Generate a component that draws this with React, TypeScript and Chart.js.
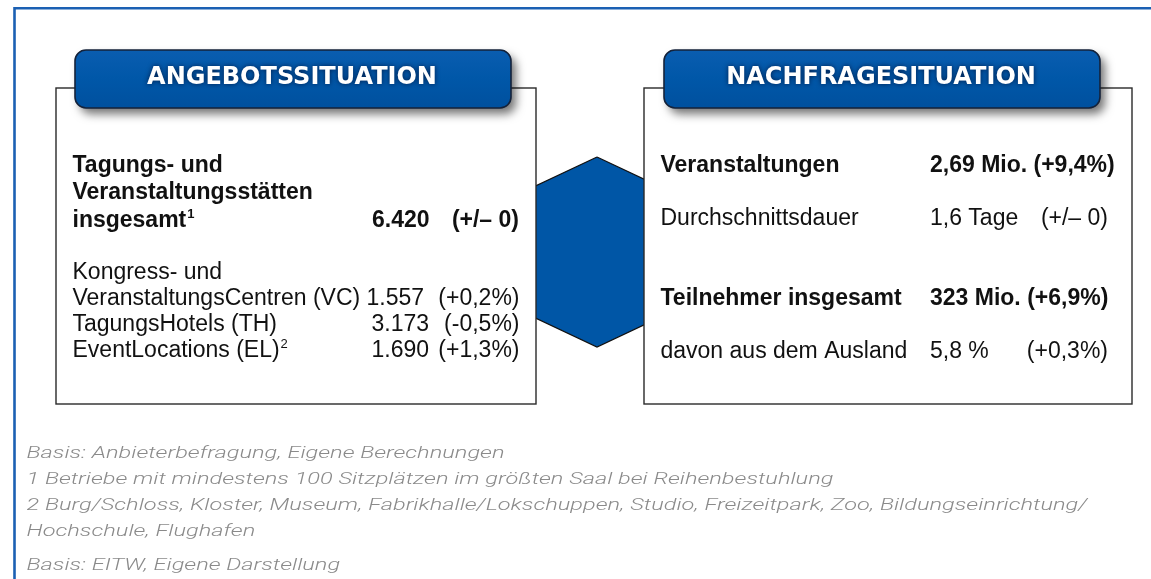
import React, { useEffect, useRef } from "react";
import { Chart, registerables } from "chart.js";

Chart.register(...registerables);

// ---------- data ----------
const supplyTitle = "ANGEBOTSSITUATION";
const demandTitle = "NACHFRAGESITUATION";

const supplyTotalLines = ["Tagungs- und", "Veranstaltungsstätten", "insgesamt"];
const supplyTotalNote = "1";
const supplyTotalValue = "6.420";
const supplyTotalChange = "(+/– 0)";

const supplyCategoryIntro = "Kongress- und";
const supplyCategories = ["VeranstaltungsCentren (VC)", "TagungsHotels (TH)", "EventLocations (EL)"];
const supplyCategoryNotes = ["", "", "2"];
const supplyValues = ["1.557", "3.173", "1.690"];
const supplyChanges = ["(+0,2%)", "(-0,5%)", "(+1,3%)"];

const demandLabels = ["Veranstaltungen", "Durchschnittsdauer", "Teilnehmer insgesamt", "davon aus dem Ausland"];
const demandValues = ["2,69 Mio.", "1,6 Tage", "323 Mio.", "5,8 %"];
const demandChanges = ["(+9,4%)", "(+/– 0)", "(+6,9%)", "(+0,3%)"];
const demandBold = [true, false, true, false];

const footnotes = [
  "Basis: Anbieterbefragung, Eigene Berechnungen",
  "1 Betriebe mit mindestens 100 Sitzplätzen im größten Saal bei Reihenbestuhlung",
  "2 Burg/Schloss, Kloster, Museum, Fabrikhalle/Lokschuppen, Studio, Freizeitpark, Zoo, Bildungseinrichtung/",
  "Hochschule, Flughafen",
  "Basis: EITW, Eigene Darstellung",
];

// connector hexagon outline
const hexX = [597, 677, 677, 597, 517, 517, 597];
const hexY = [157, 194.6, 309.4, 347, 309.4, 194.6, 157];

// ---------- styles ----------
const W = 1151;
const H = 579;
const BODY_FONT = '"Liberation Sans", Arial, sans-serif';
const HEAD_FONT = '"DejaVu Sans", Verdana, sans-serif';
const NOTE_FONT = 'Roboto, "Open Sans", sans-serif';
const BODY_SIZE = 23;
const BLUE = "#0056a6";

const leftBox = { x0: 56, x1: 536, y0: 88, y1: 404 };
const rightBox = { x0: 644, x1: 1132, y0: 88, y1: 404 };
const leftHead = { x0: 75, x1: 511, y0: 50, y1: 108 };
const rightHead = { x0: 664, x1: 1100, y0: 50, y1: 108 };

const infoPlugin = {
  id: "infoPanels",
  afterDatasetsDraw(chart: any) {
    const ctx: CanvasRenderingContext2D = chart.ctx;
    const sx = chart.scales.x;
    const sy = chart.scales.y;
    const X = (v: number) => sx.getPixelForValue(v);
    const Y = (v: number) => sy.getPixelForValue(v);

    ctx.save();

    // outer frame
    ctx.strokeStyle = "#1b60b3";
    ctx.lineWidth = 2.6;
    ctx.beginPath();
    ctx.moveTo(X(W + 5), Y(8.2));
    ctx.lineTo(X(14.5), Y(8.2));
    ctx.lineTo(X(14.5), Y(H + 5));
    ctx.stroke();

    // content boxes
    const box = (b: any) => {
      ctx.fillStyle = "#ffffff";
      ctx.fillRect(X(b.x0), Y(b.y0), X(b.x1) - X(b.x0), Y(b.y1) - Y(b.y0));
      ctx.strokeStyle = "#2a2a2a";
      ctx.lineWidth = 1.4;
      ctx.strokeRect(X(b.x0), Y(b.y0), X(b.x1) - X(b.x0), Y(b.y1) - Y(b.y0));
    };
    box(leftBox);
    box(rightBox);

    // header pills
    const head = (h: any, title: string) => {
      const x = X(h.x0), y = Y(h.y0), w = X(h.x1) - X(h.x0), hh = Y(h.y1) - Y(h.y0);
      ctx.save();
      ctx.beginPath();
      ctx.roundRect(x, y, w, hh, 11);
      ctx.shadowColor = "rgba(0,0,0,0.55)";
      ctx.shadowBlur = 10;
      ctx.shadowOffsetX = 5;
      ctx.shadowOffsetY = 6;
      const g = ctx.createLinearGradient(0, y, 0, y + hh);
      g.addColorStop(0, "#0a5db0");
      g.addColorStop(0.5, "#0057a8");
      g.addColorStop(1, "#00509e");
      ctx.fillStyle = g;
      ctx.fill();
      ctx.restore();
      ctx.save();
      ctx.beginPath();
      ctx.roundRect(x, y, w, hh, 11);
      ctx.strokeStyle = "#14223a";
      ctx.lineWidth = 1.6;
      ctx.stroke();
      ctx.font = `bold 24px ${HEAD_FONT}`;
      ctx.textAlign = "center";
      ctx.textBaseline = "alphabetic";
      ctx.shadowColor = "rgba(0,10,40,0.75)";
      ctx.shadowBlur = 5;
      ctx.fillStyle = "#ffffff";
      ctx.fillText(title, x + w / 2 - 1, Y(84));
      ctx.restore();
    };
    head(leftHead, supplyTitle);
    head(rightHead, demandTitle);

    // body text helpers
    ctx.fillStyle = "#111111";
    ctx.textBaseline = "alphabetic";
    const txt = (s: string, x: number, y: number, bold: boolean, align: CanvasTextAlign = "left") => {
      ctx.font = `${bold ? "bold " : ""}${BODY_SIZE}px ${BODY_FONT}`;
      ctx.textAlign = align;
      ctx.fillText(s, X(x), Y(y));
      return ctx.measureText(s).width;
    };
    const sup = (s: string, x: number, y: number, bold: boolean) => {
      ctx.font = `${bold ? "bold " : ""}13px ${BODY_FONT}`;
      ctx.textAlign = "left";
      ctx.fillText(s, X(x), Y(y - 9));
    };

    // supply panel
    const lx = 72.5;
    const boldBase = [171.5, 199, 226.5];
    supplyTotalLines.forEach((l, i) => {
      const w = txt(l, lx, boldBase[i], true);
      if (i === supplyTotalLines.length - 1) sup(supplyTotalNote, lx + w + 1, boldBase[i], true);
    });
    txt(supplyTotalValue, 372, boldBase[2], true);
    txt(supplyTotalChange, 519, boldBase[2], true, "right");

    const regBase = [278.5, 304.5, 330.5, 356.5];
    txt(supplyCategoryIntro, lx, regBase[0], false);
    supplyCategories.forEach((c, i) => {
      const y = regBase[i + 1];
      const w = txt(c, lx, y, false);
      if (supplyCategoryNotes[i]) sup(supplyCategoryNotes[i], lx + w + 1, y, false);
      if (i === 0) {
        ctx.font = `${BODY_SIZE}px ${BODY_FONT}`;
        const sp = ctx.measureText(" ").width;
        txt(supplyValues[i], lx + w + sp, y, false);
      } else {
        txt(supplyValues[i], 371.5, y, false);
      }
      txt(supplyChanges[i], 519.5, y, false, "right");
    });

    // demand panel
    const rx = 660.5;
    const demandBase = [172, 225, 305, 358];
    demandLabels.forEach((l, i) => {
      const y = demandBase[i];
      txt(l, rx, y, demandBold[i]);
      if (demandBold[i]) {
        txt(demandValues[i] + " " + demandChanges[i], 930, y, true);
      } else {
        txt(demandValues[i], 930, y, false);
        txt(demandChanges[i], 1108, y, false, "right");
      }
    });

    // footnotes
    ctx.fillStyle = "#8a8a8a";
    ctx.font = `italic 300 17px ${NOTE_FONT}`;
    ctx.textAlign = "left";
    const stretch = 478 / ctx.measureText(footnotes[0]).width;
    const noteBase = [457.5, 484, 510, 536, 570];
    footnotes.forEach((f, i) => {
      ctx.save();
      ctx.translate(X(26.5), Y(noteBase[i]));
      ctx.scale(stretch, 1);
      ctx.fillText(f, 0, 0);
      ctx.restore();
    });

    ctx.restore();
  },
};

export default function App() {
  const ref = useRef<HTMLCanvasElement | null>(null);
  useEffect(() => {
    if (!ref.current) return;
    const chart = new Chart(ref.current, {
      type: "scatter",
      data: {
        datasets: [
          {
            data: hexX.map((x, i) => ({ x, y: hexY[i] })),
            showLine: true,
            fill: "shape",
            backgroundColor: BLUE,
            borderColor: "#111111",
            borderWidth: 1.2,
            pointRadius: 0,
            tension: 0,
          } as any,
        ],
      },
      options: {
        animation: false,
        responsive: false,
        events: [],
        layout: { padding: 0 },
        plugins: { legend: { display: false }, tooltip: { enabled: false } },
        scales: {
          x: { type: "linear", min: 0, max: W, display: false },
          y: { type: "linear", min: 0, max: H, reverse: true, display: false },
        },
      },
      plugins: [infoPlugin],
    });
    return () => chart.destroy();
  }, []);
  return (
    <div style={{ position: "absolute", left: 0, top: 0, width: W, height: H, background: "#fff" }}>
      <canvas ref={ref} width={W} height={H} style={{ width: W, height: H, display: "block" }} />
    </div>
  );
}
